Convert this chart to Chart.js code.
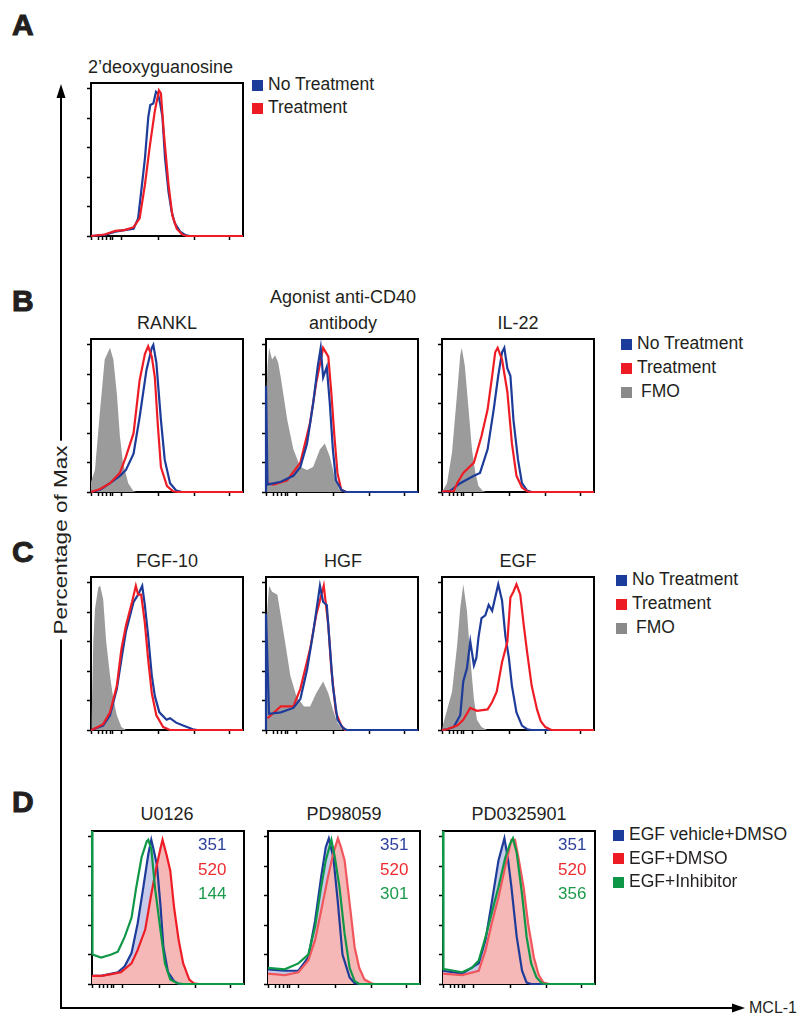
<!DOCTYPE html>
<html>
<head>
<meta charset="utf-8">
<script src="https://cdn.jsdelivr.net/npm/chart.js@4.4.0/dist/chart.umd.min.js"></script>
<style>
  body { margin:0; background:#fff; width:800px; height:1025px; position:relative; overflow:hidden;
         font-family:"Liberation Sans", Arial, Helvetica, sans-serif; color:#231f20; }
  .t { position:absolute; white-space:nowrap; line-height:1; }
  .letter { -webkit-text-stroke: 1px #231f20; }
  canvas { position:absolute; }
  .sq { position:absolute; width:11px; height:11px; }
</style>
</head>
<body>
<svg width="800" height="1025" style="position:absolute;left:0;top:0">
  <line x1="61" y1="96" x2="61" y2="1008" stroke="#000" stroke-width="2"/>
  <polygon points="61,84 56.5,98 65.5,98" fill="#000"/>
  <line x1="60" y1="1008" x2="734" y2="1008" stroke="#000" stroke-width="2"/>
  <polygon points="745,1008 732,1003.5 732,1012.5" fill="#000"/>
</svg>
<script>
// x = fluorescence position (% of axis), y = percentage of max
const xTicks = [0.5, 5, 7.5, 10, 12.5, 14, 20, 44.5, 68, 91];
const yTicks = [0, 20, 40, 60, 80, 100];

// A: 2'deoxyguanosine
const deoxyNoTreat = [[0,0],[9,0.7],[16,3],[22,4],[28,5],[31,12],[33,30],[35.5,53],[37.7,81],[39,89],[41,90],[42.8,98],[44,97],[45.5,90],[47,81],[48.7,53],[51,30],[53,17],[55,9],[58.6,3],[62,0.7],[65,0],[100,0]];
const deoxyTreat = [[0,0],[9,1],[16,3.5],[22,4],[28,6],[32,12],[35.5,35],[38.8,62],[42,85],[44.7,99],[46,97],[48,69],[51,35],[53.5,14],[56.4,5],[60,1],[63,0],[100,0]];

// B: RANKL, agonist anti-CD40, IL-22
const ranklFmo = [[0,7],[2.6,15],[6,56],[9,90],[12.5,98],[14.7,90],[17,67],[19,38],[21,20],[24.5,6],[28,0.5],[30,0],[100,0]];
const ranklNoTreat = [[0,0],[6,1.5],[12.5,6],[19,11],[23,15],[28,26],[32,51],[36.5,83],[40,98],[41,100],[43,88],[46,49],[48.5,22],[52,6],[56,1],[60,0],[100,0]];
const ranklTreat = [[0,0],[6,2],[12.5,6],[19,13],[23,24],[28,40],[32,76],[35.5,94],[37.6,99],[40,92],[42,78],[44,45],[46,17],[50,4],[54,0.5],[57,0],[100,0]];

const cd40Fmo = [[0,60],[1,85],[2,98],[4,90],[6,93],[8,88],[9.7,78],[14,49],[18,29],[22.6,17],[27,15],[31,17],[35.5,29],[38.7,33],[42,24],[45,11],[48,2],[50.5,0],[100,0]];
const cd40NoTreat = [[0,0],[0,72],[1,5],[9.7,7],[18,11],[22.6,17],[27,33],[31,60],[34,85],[36,98],[37.6,78],[40,85],[42,60],[44,29],[46,8],[49.5,1.5],[52.7,0],[100,0]];
const cd40Treat = [[0,6],[5,5],[14,8],[22.6,20],[29,47],[33,74],[37.6,98],[41,92],[43,67],[45,38],[47,13],[49.5,1.5],[52.7,0],[100,0]];

const il22Fmo = [[0,0],[3.3,6],[6.6,27],[10,68],[12,93],[13,98],[15,86],[17.5,56],[19.7,29],[22,13],[24,4],[27,0.5],[29,0],[100,0]];
const il22NoTreat = [[0,0],[5,0.5],[12,6],[21,11],[25,13],[30,29],[34,56],[37,79],[39.5,95],[41,98],[43,84],[45,79],[47,49],[50,22],[52.6,6],[56,1],[59,0],[100,0]];
const il22Treat = [[0,0.5],[7.7,0.5],[10,6],[14,13],[21,20],[26,38],[30,56],[33,79],[35,95],[36.6,98],[39.5,90],[43,68],[46,33],[49,11],[52.6,3],[56,0.5],[58,0],[100,0]];

// C: FGF-10, HGF, EGF
const fgfFmo = [[0,0],[0.4,7],[1.5,60],[2.6,82],[4.8,97],[6,98],[8,89],[10,60],[12.5,37],[14.7,21],[17,10],[20,2],[23,0],[100,0]];
const fgfNoTreat = [[0,0],[1.5,0.5],[8,3],[12.5,10],[17,28],[20,48],[23,67],[28,87],[31,92],[33.7,98],[35.4,85],[37.6,64],[40,37],[42,23],[45,12],[49.7,7],[52,8],[56,5],[60.6,3],[67,0.5],[70,0],[100,0]];
const fgfTreat = [[0,0],[1.5,0.5],[8,4],[12.5,12],[17,30],[20,55],[23,71],[27,87],[29.5,98],[31,92],[33,92],[35.4,73],[37.6,48],[40,25],[43,10],[47.5,2],[52,0],[100,0]];

const hgfFmo = [[0,70],[2,98],[4,94],[7.5,92],[9.7,78],[13,57],[16,37],[20,23],[25,16],[29,16],[33,25],[37.6,33],[41,25],[44,14],[47,5],[50.5,0],[100,0]];
const hgfNoTreat = [[0,0],[0,79],[2,11],[9.7,12],[18,15],[22.6,21],[27,41],[31,66],[35.5,98],[37.6,87],[40,85],[42,57],[44,30],[47,7],[50.5,1.5],[53,0],[100,0]];
const hgfTreat = [[1,8],[9.7,16],[18,16],[22.6,28],[29,55],[33,78],[38,98],[41,71],[43,41],[46,12],[49.5,3],[52,0],[100,0]];

const egfFmo = [[0,0],[1,5],[6.6,26],[10,58],[12,83],[14,99],[16.4,81],[18.6,49],[21,21],[23,7],[26,2],[29.6,0],[100,0]];
const egfNoTreat = [[0,0],[3.3,0.5],[7.7,2],[12,10],[14,33],[16.4,42],[18.6,60],[21,44],[22.6,49],[24,63],[26,76],[28.5,78],[30.7,85],[33,81],[35,90],[37,99],[39.5,88],[41.7,64],[44,49],[46,30],[49,12],[52.6,3],[56,0.5],[59,0],[100,0]];
const egfTreat = [[0,0],[3.3,0.5],[10,3],[14,7],[18.6,15],[23,13],[30,14],[33,19],[36,26],[39.5,46],[43,60],[45,90],[47,94],[49,99],[51.5,92],[53.7,72],[56,53],[59,30],[62.5,14],[65,6],[68,2],[72,0],[100,0]];

// D: U0126, PD98059, PD0325901
const u0126Vehicle = [[0,5.5],[6,5.5],[17,8],[21.5,12],[26,21],[30,41],[33.8,66],[37,88],[39,98],[40.4,92],[42.7,81],[45,54],[47,25],[50,8],[54,2],[57,0],[100,0]];
const u0126Dmso = [[0,5.5],[6,5.5],[12.7,6.7],[19,8],[26,14],[30,23],[35,37],[39,61],[42.7,81],[45,92],[46.4,98],[49,88],[51.5,77],[54,52],[57,30],[60,14],[64,3],[67,0.5],[70,0],[100,0]];
const u0126Inhib = [[0,104],[0.3,20],[6,18],[12.7,20],[17,22],[21.5,32],[26,45],[29,65],[32.6,86],[36,97],[37,98],[39,92],[41.5,65],[45,37],[48,14],[51.5,3],[56,0.5],[60,0],[100,0]];

const pd98Vehicle = [[0,10],[11,9],[20,9],[26.5,18],[31,43],[35,73],[38,93],[40,99],[43,86],[46,55],[49,20],[53.7,4.5],[57,0.5],[60,0],[100,0]];
const pd98Dmso = [[0,7],[11,6],[20,8],[26.5,16],[31,30],[35,50],[39.5,73],[43,89],[46,99],[48,93],[50.4,84],[53.7,55],[57,25],[60,11],[63.5,3],[68,0.5],[70,0],[100,0]];
const pd98Inhib = [[0,11],[11,10],[20,14],[26.5,20],[31,39],[35,66],[38,84],[41.7,98],[44,86],[47,66],[50.4,34],[53.7,11],[57,2],[60,0],[100,0]];

const pd03Vehicle = [[0,9],[12.6,7],[23.5,14],[28,30],[32,55],[36.5,84],[40.4,99],[42.6,86],[45,66],[48.5,32],[52,9],[55,1],[58,0],[100,0]];
const pd03Dmso = [[0,7],[12.6,6],[23.5,9],[28,23],[32,41],[36.5,59],[41,80],[45,98],[47.4,98],[49.6,86],[53,66],[56,41],[59.8,18],[63,6],[66,1],[70,0],[100,0]];
const pd03Inhib = [[0,104],[0.3,10],[1.7,10],[12.6,8],[19,11],[23.5,16],[28,32],[32,48],[36.5,66],[41,86],[44,95],[46,99],[48.5,89],[52,61],[55,32],[58,14],[61.5,4.5],[65,0.5],[68,0],[100,0]];

// MFI values printed in panel D
const mfiLabels = [['351','520','144'], ['351','520','301'], ['351','520','356']];

const BLUE = '#1d3c9a', RED = '#ee1d25', GREEN = '#0f9748', GRAY = '#9b9b9b';
const LAVENDER = '#c7cae9', PINK = '#f6b7b7';

const pts = arr => arr.map(p => ({x: p[0], y: p[1]}));
const lineSet = (arr, color, order) => ({data: pts(arr), borderColor: color, borderWidth: 2.2, fill: false, order: order, clip: 4});
const fillSet = (arr, color, order) => ({data: pts(arr), borderWidth: 0, borderColor: 'rgba(0,0,0,0)', backgroundColor: color, fill: 'origin', order: order, clip: 4});

const boxPlugin = {
  id: 'box',
  beforeDatasetsDraw(chart) {
    const {ctx, chartArea: a} = chart;
    ctx.save();
    ctx.strokeStyle = '#000';
    ctx.lineWidth = 2;
    ctx.strokeRect(a.left, a.top, a.right - a.left, a.bottom - a.top);
    ctx.restore();
  }
};

const tickGrid = {drawOnChartArea: false, drawTicks: true, tickLength: 4, tickWidth: 1.5, tickColor: '#000'};

function panel(box, datasets) {
  const cv = document.createElement('canvas');
  cv.width = box.w + 9;
  cv.height = box.h + 9;
  document.body.appendChild(cv);
  const chart = new Chart(cv, {
    type: 'line',
    data: {datasets: datasets},
    options: {
      responsive: false, maintainAspectRatio: false, animation: false, events: [],
      layout: {padding: {top: 3, right: 3, left: 2, bottom: 2}},
      plugins: {legend: {display: false}, tooltip: {enabled: false}},
      elements: {point: {radius: 0}, line: {tension: 0}},
      scales: {
        x: {type: 'linear', min: 0, max: 100, ticks: {display: false},
            afterBuildTicks: s => { s.ticks = xTicks.map(v => ({value: v})); },
            grid: tickGrid, border: {display: false}},
        y: {type: 'linear', min: 0, max: 104, ticks: {display: false},
            afterBuildTicks: s => { s.ticks = yTicks.map(v => ({value: v})); },
            grid: tickGrid, border: {display: false}}
      }
    },
    plugins: [boxPlugin]
  });
  const a = chart.chartArea;
  cv.style.left = (box.x - a.left) + 'px';
  cv.style.top = (box.y - a.top) + 'px';
}

function text(str, x, y, opts) {
  const d = document.createElement('div');
  d.className = 't';
  d.textContent = str;
  d.style.left = x + 'px';
  d.style.top = y + 'px';
  d.style.fontSize = (opts.size || 18) + 'px';
  if (opts.bold) { d.style.fontWeight = 'bold'; d.classList.add('letter'); }
  if (opts.color) d.style.color = opts.color;
  d.style.transform = opts.center ? 'translate(-50%,-50%)' : 'translate(0,-50%)';
  document.body.appendChild(d);
  return d;
}

function legend(x, y, items) {
  items.forEach((it, i) => {
    const s = document.createElement('div');
    s.className = 'sq';
    s.style.left = x + 'px';
    s.style.top = (y + i * it.step - 5.5) + 'px';
    s.style.background = it.color;
    document.body.appendChild(s);
    text(it.label, x + 16 + (it.shift || 0), y + i * it.step, {size: 17.5});
  });
}

// layout
const W = 152, H = 153;
const cols = [91, 266, 442];
const rowA = 83, rowB = 339, rowC = 577, rowD = 831;

panel({x: cols[0], y: rowA, w: W, h: H}, [lineSet(deoxyTreat, RED, 0), lineSet(deoxyNoTreat, BLUE, 1)]);

panel({x: cols[0], y: rowB, w: W, h: H}, [lineSet(ranklTreat, RED, 0), lineSet(ranklNoTreat, BLUE, 1), fillSet(ranklFmo, GRAY, 2)]);
panel({x: cols[1], y: rowB, w: W, h: H}, [lineSet(cd40Treat, RED, 1), lineSet(cd40NoTreat, BLUE, 0), fillSet(cd40Fmo, GRAY, 2)]);
panel({x: cols[2], y: rowB, w: W, h: H}, [lineSet(il22Treat, RED, 0), lineSet(il22NoTreat, BLUE, 1), fillSet(il22Fmo, GRAY, 2)]);

panel({x: cols[0], y: rowC, w: W, h: H}, [lineSet(fgfTreat, RED, 0), lineSet(fgfNoTreat, BLUE, 1), fillSet(fgfFmo, GRAY, 2)]);
panel({x: cols[1], y: rowC, w: W, h: H}, [lineSet(hgfTreat, RED, 1), lineSet(hgfNoTreat, BLUE, 0), fillSet(hgfFmo, GRAY, 2)]);
panel({x: cols[2], y: rowC, w: W, h: H}, [lineSet(egfTreat, RED, 0), lineSet(egfNoTreat, BLUE, 1), fillSet(egfFmo, GRAY, 2)]);

const dSets = [[u0126Vehicle, u0126Dmso, u0126Inhib], [pd98Vehicle, pd98Dmso, pd98Inhib], [pd03Vehicle, pd03Dmso, pd03Inhib]];
dSets.forEach((s, i) => {
  panel({x: cols[i] + (i === 1 ? 2 : 1), y: rowD, w: W, h: H}, [
    lineSet(s[2], GREEN, 0),
    lineSet(s[1], i === 0 ? RED : '#f0565c', 1),
    lineSet(s[0], BLUE, 2),
    fillSet(s[1], PINK, 3),
    fillSet(s[0], LAVENDER, 4)
  ]);
});

// panel letters
text('A', 12, 25, {size: 30, bold: true});
text('B', 12, 301, {size: 30, bold: true});
text('C', 12, 552, {size: 30, bold: true});
text('D', 12, 802, {size: 30, bold: true});

// titles
text('2\u2019deoxyguanosine', 88, 67, {size: 18});
text('RANKL', 167, 323, {size: 18, center: true});
text('Agonist anti-CD40', 343, 297, {size: 18, center: true});
text('antibody', 343, 323, {size: 18, center: true});
text('IL-22', 518, 323, {size: 18, center: true});
text('FGF-10', 167, 561, {size: 18, center: true});
text('HGF', 343, 561, {size: 18, center: true});
text('EGF', 518, 561, {size: 18, center: true});
text('U0126', 167, 814, {size: 18, center: true});
text('PD98059', 344, 814, {size: 18, center: true});
text('PD0325901', 519, 814, {size: 18, center: true});

// MFI numbers
const mfiX = [198, 380, 558];
const mfiColors = ['#2b3f9c', '#ee2a2f', '#1c9a4c'];
mfiLabels.forEach((labs, i) => {
  labs.forEach((l, j) => text(l, mfiX[i], 844 + j * 24.5, {size: 17, color: mfiColors[j]}));
});

// legends
legend(252, 85, [{label: 'No Treatment', color: '#1b3c9b', step: 23}, {label: 'Treatment', color: '#ed1c24', step: 23}]);
legend(621, 344, [{label: 'No Treatment', color: '#1b3c9b', step: 24}, {label: 'Treatment', color: '#ed1c24', step: 24}, {label: 'FMO', color: '#8a8a8a', step: 24, shift: 4}]);
legend(616, 580, [{label: 'No Treatment', color: '#1b3c9b', step: 24}, {label: 'Treatment', color: '#ed1c24', step: 24}, {label: 'FMO', color: '#8a8a8a', step: 24, shift: 4}]);
legend(613, 835, [{label: 'EGF vehicle+DMSO', color: '#1b3c9b', step: 23.5}, {label: 'EGF+DMSO', color: '#ed1c24', step: 23.5}, {label: 'EGF+Inhibitor', color: '#0f9748', step: 23.5}]);

// axis labels
const yl = text('Percentage of Max', 61, 540, {size: 18, center: true});
yl.style.background = '#fff';
yl.style.padding = '0 4px';
yl.style.transform = 'translate(-50%,-50%) rotate(-90deg) scaleX(1.25)';
text('MCL-1', 749, 1008, {size: 16});
</script>
</body>
</html>
